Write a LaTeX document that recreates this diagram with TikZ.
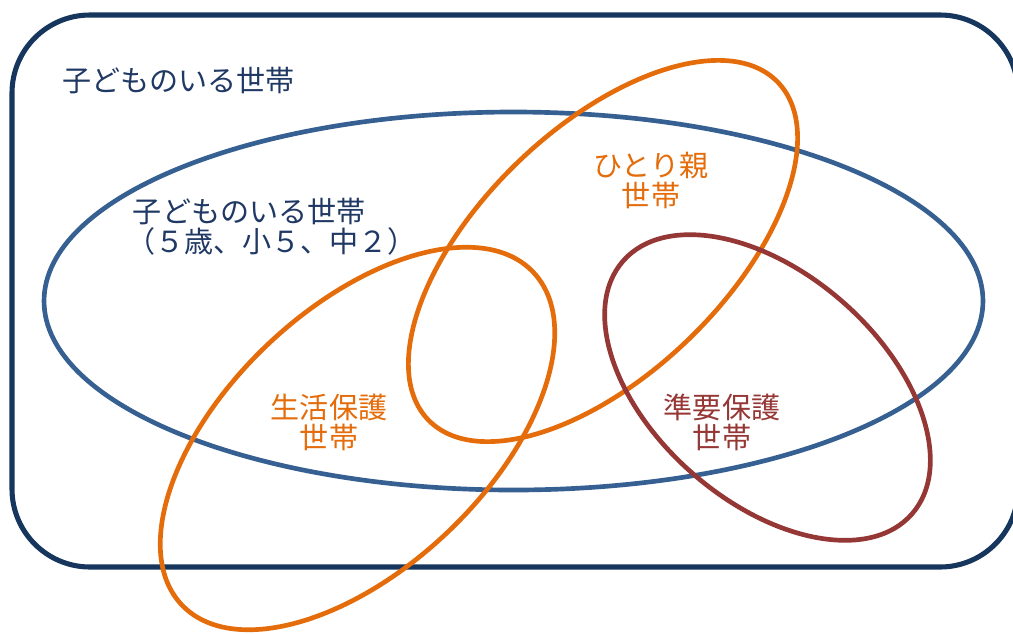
\documentclass[tikz,border=0pt]{standalone}
\usepackage{fontspec}
\setmainfont{Noto Sans CJK JP}
\definecolor{navy}{RGB}{23,54,93}
\definecolor{navytext}{RGB}{31,56,100}
\definecolor{setblue}{RGB}{54,96,146}
\definecolor{setorange}{RGB}{228,108,10}
\definecolor{setred}{RGB}{149,55,53}
\tikzset{
  lbl/.style={inner sep=0pt, font=\fontsize{21.8}{22.5}\selectfont, align=center},
  setline/.style={line width=3.5pt},
}
\begin{document}
\begin{tikzpicture}[x=0.75pt,y=0.75pt]
\useasboundingbox (0,0) rectangle (1013,-633);
\clip (0,0) rectangle (1013,-633);
\fill[white] (0,0) rectangle (1013,-633);
% outer set
\draw[navy, line width=3.8pt, rounded corners=58.5pt] (12,-15) rectangle (1018,-567);
\node[lbl, text=navytext, anchor=west] (outerlbl) at (62,-80) {子どものいる世帯};
% children 5/11/14
\draw[setblue, setline] (513.5,-301) ellipse [x radius=352.1pt, y radius=141.75pt];
\node[lbl, text=navytext, anchor=west, align=left] (innerlbl) at (126,-227)
  {\hspace*{5pt}子どものいる世帯\\（５歳、小５、中２）};
% single parent
\draw[setorange, setline] (603,-251) ellipse [x radius=182.25pt, y radius=92.25pt, rotate=44];
% welfare
\draw[setorange, setline] (357.5,-438.5) ellipse [x radius=181.5pt, y radius=97.5pt, rotate=43.4];
% quasi
\draw[setred, setline] (767.5,-387.5) ellipse [x radius=144pt, y radius=85.5pt, rotate=-41.2];
\node[lbl, text=setorange] (singlelbl) at (651,-180) {ひとり親\\世帯};
\node[lbl, text=setorange] (welfarelbl) at (329,-422) {生活保護\\世帯};
\node[lbl, text=setred] (quasilbl) at (722,-422) {準要保護\\世帯};
\end{tikzpicture}
\end{document}
